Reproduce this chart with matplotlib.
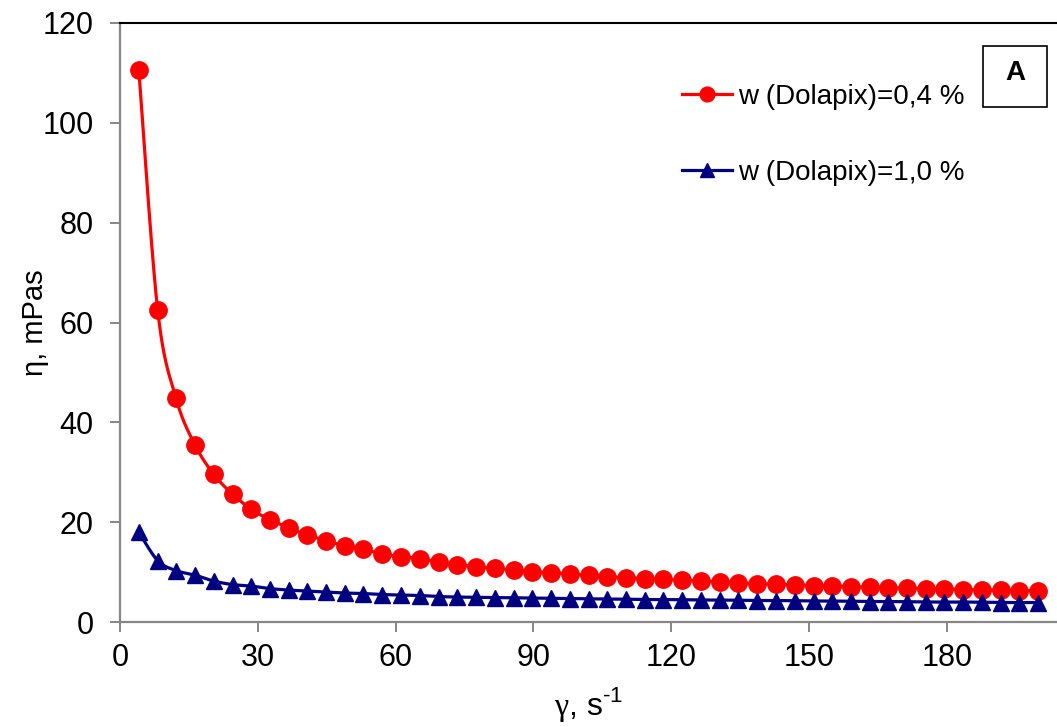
import numpy as np
import matplotlib
matplotlib.use("Agg")
import matplotlib.pyplot as plt
from matplotlib.lines import Line2D
from matplotlib.patches import Rectangle

plt.rcParams["font.family"] = ["Liberation Sans", "DejaVu Sans"]
plt.rcParams["mathtext.fontset"] = "custom"
plt.rcParams["mathtext.rm"] = "Liberation Serif"
plt.rcParams["mathtext.sf"] = "Liberation Sans"

# shear rate, 1/s
shear_rate = [4.1, 8.2, 12.2, 16.3, 20.4, 24.5, 28.6, 32.6, 36.7, 40.8,
              44.9, 49.0, 53.0, 57.1, 61.2, 65.3, 69.4, 73.4, 77.5, 81.6,
              85.7, 89.8, 93.8, 97.9, 102.0, 106.1, 110.2, 114.2, 118.3, 122.4,
              126.5, 130.6, 134.6, 138.7, 142.8, 146.9, 151.0, 155.0, 159.1, 163.2,
              167.3, 171.4, 175.4, 179.5, 183.6, 187.7, 191.8, 195.8, 199.9]

# viscosity, mPas
visc_04 = [110.5, 62.5, 44.8, 35.5, 29.6, 25.6, 22.6, 20.5, 18.9, 17.4,
           16.3, 15.2, 14.6, 13.6, 13.1, 12.7, 12.0, 11.5, 11.1, 10.8,
           10.4, 10.1, 9.9, 9.6, 9.4, 9.1, 8.9, 8.7, 8.6, 8.4,
           8.2, 8.0, 7.85, 7.7, 7.55, 7.45, 7.3, 7.2, 7.1, 7.0,
           6.9, 6.8, 6.7, 6.6, 6.5, 6.45, 6.4, 6.3, 6.2]
visc_10 = [18.0, 12.3, 10.3, 9.4, 8.2, 7.5, 7.2, 6.7, 6.4, 6.2,
           6.0, 5.8, 5.7, 5.5, 5.4, 5.3, 5.1, 5.0, 4.95, 4.9,
           4.85, 4.8, 4.75, 4.7, 4.65, 4.6, 4.55, 4.5, 4.5, 4.45,
           4.4, 4.4, 4.35, 4.3, 4.3, 4.25, 4.2, 4.2, 4.15, 4.1,
           4.1, 4.05, 4.0, 4.0, 4.0, 3.95, 3.9, 3.9, 3.9]

labels = ["w (Dolapix)=0,4 %", "w (Dolapix)=1,0 %"]
colors = ["#ff0000", "#000080"]
markers = ["o", "^"]


def smooth(x, y, n=24):
    # bezier smoothing through the points (control points at 1/6 of neighbour chord)
    x = np.asarray(x, float)
    y = np.asarray(y, float)
    px = np.r_[x[0], x, x[-1]]
    py = np.r_[y[0], y, y[-1]]
    t = np.linspace(0, 1, n)[:, None]
    out = []
    for i in range(len(x) - 1):
        p0 = np.array([px[i], py[i]])
        p1 = np.array([px[i + 1], py[i + 1]])
        p2 = np.array([px[i + 2], py[i + 2]])
        p3 = np.array([px[i + 3], py[i + 3]])
        c1 = p1 + (p2 - p0) / 6
        c2 = p2 - (p3 - p1) / 6
        seg = ((1 - t) ** 3) * p1 + 3 * ((1 - t) ** 2) * t * c1 \
            + 3 * (1 - t) * t ** 2 * c2 + t ** 3 * p2
        out.append(seg if i == 0 else seg[1:])
    out = np.vstack(out)
    return out[:, 0], out[:, 1]


W, H = 1057, 727
fig = plt.figure(figsize=(W / 100, H / 100), dpi=100)
ax = fig.add_axes([120 / W, 1 - 622 / H, (W - 120) / W, (622 - 23) / H])

handles = []
for yv, c, m, lab, ms in zip([visc_04, visc_10], colors, markers, labels, [12.5, 12]):
    sx, sy = smooth(shear_rate, yv)
    ax.plot(sx, sy, color=c, lw=2.3, solid_capstyle="round")
    ax.plot(shear_rate, yv, ls="none", marker=m, ms=ms, color=c, mec=c)
    handles.append(Line2D([], [], color=c, lw=2.3, marker=m, ms=ms * 0.85, mec=c, label=lab))

ax.set_xlim(0, 204)
ax.set_ylim(0, 120)
ax.set_xticks(np.arange(0, 181, 30))
ax.set_yticks(np.arange(0, 121, 20))

ax.spines["right"].set_visible(False)
ax.spines["top"].set_color("black")
ax.spines["top"].set_linewidth(1.5)
for s in ["left", "bottom"]:
    ax.spines[s].set_color("#868686")
    ax.spines[s].set_linewidth(1.6)
ax.tick_params(direction="out", length=7, width=1.4, color="#868686",
               labelsize=22, labelcolor="black")
ax.tick_params(axis="y", pad=12)
ax.tick_params(axis="x", pad=8)

ax.set_xlabel("$\\mathrm{\\gamma}$, s$^{\\mathsf{\u2010}\\mathsf{1}}$", fontsize=23, labelpad=9)
ax.set_ylabel("η, mPas", fontsize=21, labelpad=-5)

ax.legend(handles=handles, loc="upper left", bbox_to_anchor=(682 / W, 1 - 84 / H),
          bbox_transform=fig.transFigure, frameon=False, fontsize=20,
          handlelength=1.8, handletextpad=0.2, labelspacing=1.8,
          borderpad=0, borderaxespad=0)

# panel tag
fig.patches.append(Rectangle((983 / W, 1 - 107 / H), 64 / W, 61 / H,
                             transform=fig.transFigure, fill=False,
                             ec="black", lw=1.2))
fig.text(1015 / W, 1 - 73 / H, "A", fontsize=20, fontweight="bold",
         ha="center", va="center")

fig.savefig("out.png", dpi=100)
